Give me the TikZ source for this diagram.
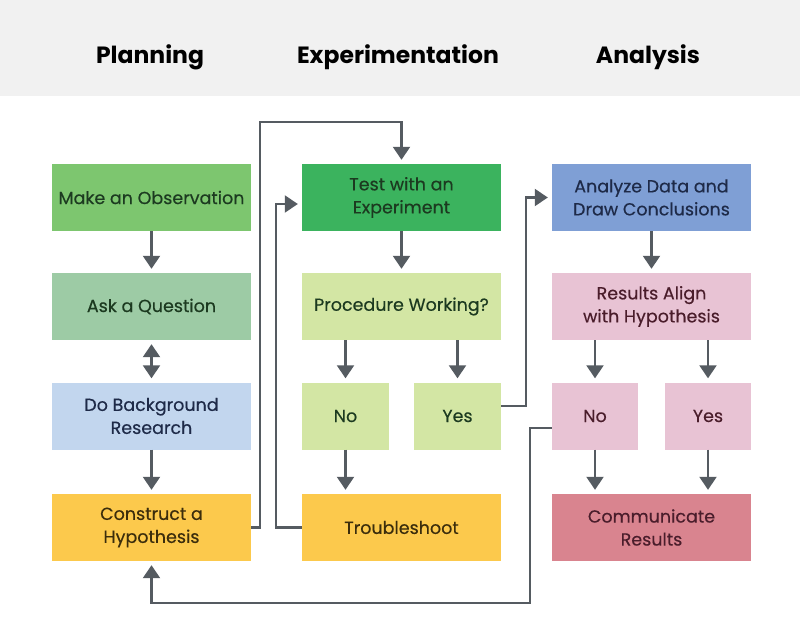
\documentclass[tikz,border=0pt]{standalone}
\usepackage{fontspec}
\setmainfont{Poppins}
\newfontfamily\medfont[FakeBold=0.35]{Poppins}
\usepackage{xcolor}
\usetikzlibrary{arrows.meta}

\definecolor{headgray}{HTML}{F1F1F1}
\definecolor{arrowgray}{HTML}{555B61}
\definecolor{obsgreen}{HTML}{7DC66F}
\definecolor{askgreen}{HTML}{9DCBA5}
\definecolor{bgblue}{HTML}{C2D6EE}
\definecolor{hypyellow}{HTML}{FCC94C}
\definecolor{testgreen}{HTML}{3BB35E}
\definecolor{procgreen}{HTML}{D3E6A4}
\definecolor{anablue}{HTML}{7F9FD5}
\definecolor{respink}{HTML}{E8C3D4}
\definecolor{compink}{HTML}{D9848F}
\definecolor{darkgreen}{HTML}{1C3A20}
\definecolor{darknavy}{HTML}{1E2A48}
\definecolor{darkbrown}{HTML}{3B2D0C}
\definecolor{darkmaroon}{HTML}{4A1D2B}

\begin{document}
\begin{tikzpicture}[x=1pt, y=-1pt,
  box/.style={rectangle, inner sep=0pt, minimum height=67pt, align=center,
    font=\medfont\fontsize{17.5}{23}\selectfont},
  wide/.style={box, minimum width=199pt},
  small/.style={box, minimum width=87pt},
  title/.style={font=\fontsize{23.5}{28}\selectfont\bfseries},
  flow/.style={-{Triangle[width=17pt,length=13pt]}, line width=2.2pt, draw=arrowgray, shorten >=4pt},
  link/.style={line width=1.8pt, draw=arrowgray}]
  \useasboundingbox (0,0) rectangle (800,639);
  \fill[headgray] (0,0) rectangle (800,96);

  % column titles
  \node[title] (tplan) at (150,57) {Planning};
  \node[title] (texp) at (398,57) {Experimentation};
  \node[title] (tana) at (648,57) {Analysis};

  % planning
  \node[wide, fill=obsgreen, text=darkgreen] (obs) at (151.5,197.5) {Make an Observation};
  \node[wide, fill=askgreen, text=darkgreen] (ask) at (151.5,306.5) {Ask a Question};
  \node[wide, fill=bgblue, text=darknavy] (bg) at (151.5,416) {Do Background\\Research};
  \node[wide, fill=hypyellow, text=darkbrown] (hyp) at (151.5,527.5) {Construct a\\Hypothesis};

  % experimentation
  \node[wide, fill=testgreen, text=darkgreen] (test) at (401.5,197.5) {Test with an\\Experiment};
  \node[wide, fill=procgreen, text=darkgreen] (proc) at (401.5,306.5) {Procedure Working?};
  \node[small, fill=procgreen, text=darkgreen] (pno) at (345.5,416) {No};
  \node[small, fill=procgreen, text=darkgreen] (pyes) at (457.5,416) {Yes};
  \node[wide, fill=hypyellow, text=darkbrown] (trouble) at (401.5,527.5) {Troubleshoot};

  % analysis
  \node[wide, fill=anablue, text=darknavy] (ana) at (651.5,197.5) {Analyze Data and\\Draw Conclusions};
  \node[wide, fill=respink, text=darkmaroon] (res) at (651.5,306.5) {Results Align\\with Hypothesis};
  \node[small, minimum width=86pt, fill=respink, text=darkmaroon] (rno) at (595,416) {No};
  \node[small, minimum width=86pt, fill=respink, text=darkmaroon] (ryes) at (708,416) {Yes};
  \node[wide, fill=compink, text=darkmaroon] (comm) at (651.5,527.5) {Communicate\\Results};

  % straight arrows
  \draw[flow] (obs) -- (ask);
  \draw[flow, {Triangle[width=17pt,length=13pt]}-{Triangle[width=17pt,length=13pt]}, shorten <=4pt] (ask) -- (bg);
  \draw[flow] (bg) -- (hyp);
  \draw[flow] (test) -- (proc);
  \draw[flow] (pno |- proc.south) -- (pno.north);
  \draw[flow] (pyes |- proc.south) -- (pyes.north);
  \draw[flow] (pno.south) -- (pno |- trouble.north);
  \draw[flow] (ana) -- (res);
  \draw[flow] (rno |- res.south) -- (rno.north);
  \draw[flow] (ryes |- res.south) -- (ryes.north);
  \draw[flow] (rno.south) -- (rno |- comm.north);
  \draw[flow] (ryes.south) -- (ryes |- comm.north);

  % loops
  \draw[link, flow] (hyp.east) -- ++(9,0) |- ([yshift=42pt]test.north) -- (test.north);
  \draw[link, flow] (trouble.west) -- ++(-26,0) |- ([yshift=-6.5pt]test.west);
  \draw[link, flow] ([yshift=10pt]pyes.east) -- ++(25,0) |- (ana.west);
  \draw[link, flow] ([yshift=-12pt]rno.west) -- ++(-22,0) |- ([yshift=-42pt]hyp.south) -- (hyp.south);
\end{tikzpicture}
\end{document}
